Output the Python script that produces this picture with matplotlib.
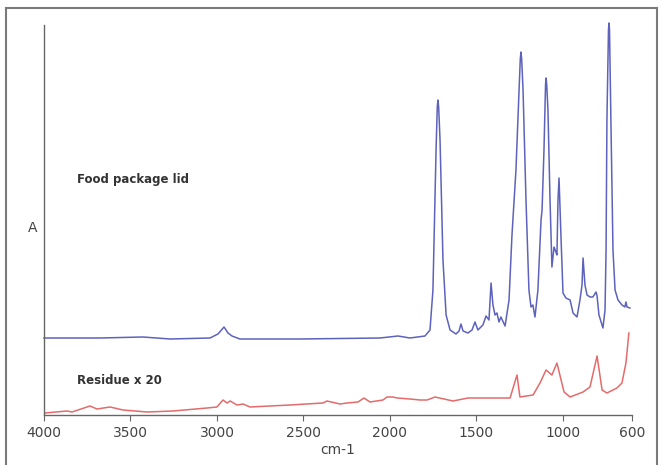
import numpy as np
import matplotlib
matplotlib.use("Agg")
import matplotlib.pyplot as plt
from matplotlib.lines import Line2D

# food package lid spectrum (wavenumber, absorbance offset)
lid_wn = [4000, 3676, 3428, 3271, 3040, 2994, 2959, 2936, 2913, 2867, 2520, 2057, 1953, 1884,
          1797, 1768, 1751, 1733, 1726, 1722, 1718, 1710, 1693, 1675, 1652, 1618, 1600, 1589,
          1577, 1549, 1525, 1508, 1491, 1462, 1444, 1427, 1415, 1404, 1392, 1381, 1369, 1358,
          1334, 1311, 1294, 1271, 1253, 1246, 1242, 1238, 1230, 1213, 1196, 1184, 1173, 1161,
          1144, 1126, 1120, 1109, 1100, 1097, 1093, 1086, 1074, 1063, 1051, 1040, 1034, 1028,
          1022, 1010, 999, 982, 958, 941, 918, 901, 889, 883, 872, 860, 843, 826, 808, 802, 791,
          768, 756, 750, 745, 736, 733, 730, 722, 710, 698, 681, 658, 641, 635, 629, 612]
lid_abs = [0.77, 0.77, 0.78, 0.76, 0.77, 0.81, 0.88, 0.82, 0.79, 0.76, 0.76, 0.77, 0.79, 0.77,
           0.79, 0.85, 1.25, 2.65, 3.08, 3.15, 3.08, 2.75, 1.55, 1.00, 0.85, 0.81, 0.84, 0.91,
           0.84, 0.82, 0.85, 0.93, 0.85, 0.90, 0.99, 0.95, 1.32, 1.10, 1.00, 1.02, 0.93, 0.98,
           0.89, 1.15, 1.80, 2.45, 3.25, 3.56, 3.63, 3.56, 3.25, 2.15, 1.25, 1.08, 1.10, 0.98,
           1.25, 1.95, 2.05, 2.65, 3.30, 3.37, 3.30, 3.05, 2.15, 1.48, 1.68, 1.63, 1.60, 2.15,
           2.37, 1.75, 1.22, 1.17, 1.15, 1.02, 0.98, 1.15, 1.30, 1.57, 1.30, 1.20, 1.18, 1.18,
           1.23, 1.19, 1.00, 0.87, 1.05, 1.65, 2.95, 3.85, 3.92, 3.85, 2.95, 1.65, 1.25, 1.15,
           1.10, 1.08, 1.13, 1.08, 1.07]

# residue spectrum x 20
res_wn = [3994, 3867, 3838, 3734, 3694, 3618, 3543, 3404, 3254, 3057, 3000, 2965, 2942, 2924,
          2884, 2849, 2809, 2578, 2387, 2364, 2289, 2248, 2184, 2150, 2115, 2040, 2017, 1982,
          1959, 1884, 1826, 1785, 1739, 1635, 1548, 1305, 1265, 1248, 1172, 1132, 1097, 1063,
          1034, 993, 958, 883, 843, 802, 773, 745, 687, 658, 635, 618]
res_abs = [0.02, 0.04, 0.03, 0.09, 0.06, 0.08, 0.05, 0.03, 0.04, 0.07, 0.08, 0.15, 0.12, 0.14,
           0.10, 0.11, 0.08, 0.10, 0.12, 0.14, 0.11, 0.12, 0.13, 0.17, 0.13, 0.15, 0.18, 0.18,
           0.17, 0.16, 0.15, 0.15, 0.18, 0.14, 0.17, 0.17, 0.40, 0.18, 0.20, 0.32, 0.45, 0.40,
           0.52, 0.23, 0.18, 0.23, 0.28, 0.59, 0.25, 0.22, 0.27, 0.32, 0.52, 0.82]

xticks = [4000, 3500, 3000, 2500, 2000, 1500, 1000, 600]

fig = plt.figure(figsize=(6.6, 4.65), dpi=100)
ax = fig.add_axes([44 / 660, 1 - 415 / 465, 588 / 660, 390 / 465])

ax.plot(lid_wn, lid_abs, color="#5d62bc", lw=1.1, clip_on=False)
ax.plot(res_wn, res_abs, color="#e36b6b", lw=1.1, clip_on=False)

ax.set_xlim(4000, 600)
ax.set_ylim(0, 3.90)
ax.set_xticks(xticks)
ax.set_xticklabels([str(t) for t in xticks])
ax.set_yticks([])
for s in ["top", "right"]:
    ax.spines[s].set_visible(False)
for s in ["left", "bottom"]:
    ax.spines[s].set_color("#666666")
    ax.spines[s].set_linewidth(1.0)
ax.tick_params(axis="x", direction="out", length=4, color="#666666",
               labelsize=10, labelcolor="#444444", pad=4)
ax.set_xlabel("cm-1", fontsize=10, color="#444444", labelpad=2)

fig.text(28 / 660, 1 - 228 / 465, "A", fontsize=10, color="#444444", ha="left", va="center")
fig.text(77 / 660, 1 - 180 / 465, "Food package lid", fontsize=8.5, fontweight="bold",
         color="#333333", ha="left", va="center")
fig.text(77 / 660, 1 - 380 / 465, "Residue x 20", fontsize=8.5, fontweight="bold",
         color="#333333", ha="left", va="center")

# outer frame
frame_kw = dict(color="#7a7a7a", lw=1.5, transform=fig.transFigure)
fig.add_artist(Line2D([6 / 660, 6 / 660], [0, 1 - 8 / 465], **frame_kw))
fig.add_artist(Line2D([6 / 660, 657 / 660], [1 - 8 / 465, 1 - 8 / 465], **frame_kw))
fig.add_artist(Line2D([657 / 660, 657 / 660], [0, 1 - 8 / 465], **frame_kw))

fig.savefig("out.png", dpi=100)
